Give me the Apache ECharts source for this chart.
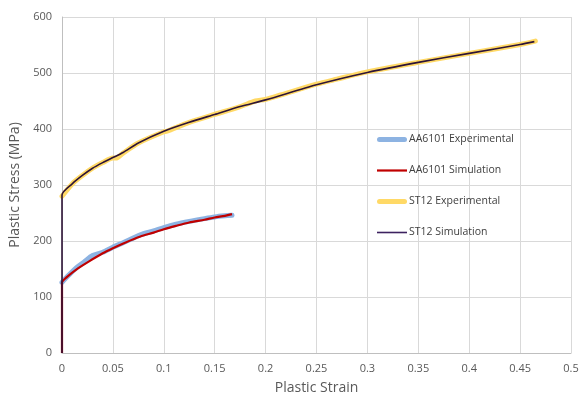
<!DOCTYPE html>
<html>
<head>
<meta charset="utf-8">
<script src="https://cdn.jsdelivr.net/npm/echarts@6/dist/echarts.min.js"></script>
<style>
  html, body { margin: 0; padding: 0; background: #fff; }
  #chart { width: 579px; height: 396px; }
</style>
</head>
<body>
<div id="chart"></div>
<script>
// strain / stress pairs
const aaExpStrain = [0, 0.005, 0.014, 0.022, 0.03, 0.04, 0.05, 0.06, 0.077, 0.09, 0.1, 0.112, 0.125, 0.14, 0.15, 0.16, 0.167]
const aaExpStress = [126, 136, 152, 163, 174, 180, 189, 197, 211, 218, 224, 230, 235, 240, 243, 245, 246]

const aaSimStrain = [0, 0, 0.005, 0.014, 0.027, 0.04, 0.05, 0.062, 0.077, 0.09, 0.1, 0.112, 0.125, 0.14, 0.15, 0.16, 0.167]
const aaSimStress = [0, 126, 136, 149, 164, 178, 187, 197, 208, 215, 221, 227, 233, 238, 242, 245, 248]

const stExpStrain = [0, 0.01, 0.02, 0.03, 0.04, 0.05, 0.053, 0.06, 0.075, 0.1, 0.103, 0.125, 0.15, 0.175, 0.19, 0.2, 0.25, 0.27, 0.3, 0.35, 0.4, 0.45, 0.465]
const stExpStress = [280, 302, 317, 330, 340, 348, 348, 357, 375, 395, 396, 412, 426, 440, 450, 453, 480, 489, 502, 519, 535, 551, 557]

const stSimStrain = [0, 0, 0.01, 0.02, 0.03, 0.04, 0.05, 0.06, 0.075, 0.1, 0.125, 0.15, 0.175, 0.2, 0.25, 0.3, 0.35, 0.4, 0.45, 0.464]
const stSimStress = [0, 282, 302, 317, 330, 340, 349, 358, 375, 396, 412, 426, 440, 452, 479, 501, 519, 535, 551, 556]

const pairs = (xs, ys) => xs.map((x, i) => [x, ys[i]])

const chart = echarts.init(document.getElementById('chart'))
const fontFamily = 'Open Sans'

const axisCommon = {
  axisTick: { show: false },
  axisLine: { show: true, lineStyle: { color: '#bfbfbf', width: 1 } },
  splitLine: { show: true, lineStyle: { color: '#d9d9d9', width: 1 } },
  axisLabel: { color: '#595959', fontSize: 11, fontFamily, margin: 10 },
  nameTextStyle: { color: '#595959', fontSize: 14, fontFamily }
}

const lineSeries = (name, data, color, width, cap) => ({
  name, type: 'line', data,
  symbol: 'none', smooth: 0.25,
  lineStyle: { color, width, cap: cap || 'butt', join: 'round' },
  itemStyle: { color },
  silent: true, z: 2
})

// legend glyphs: bar of given thickness, fit into a 30x10 box
const bar = h => `path://M0,${(10 - h) / 2}H30V${(10 + h) / 2}H0Z`
const pill = 'path://M2.5,2.5H27.5A2.5,2.5,0,0,1,27.5,7.5H2.5A2.5,2.5,0,0,1,2.5,2.5Z'

chart.setOption({
  animation: false,
  textStyle: { fontFamily },
  grid: { left: 62, right: 8, top: 17, bottom: 43, outerBoundsMode: 'none' },
  legend: {
    orient: 'vertical',
    left: 372, top: 129,
    itemWidth: 30, itemHeight: 10, itemGap: 20,
    symbolKeepAspect: true,
    textStyle: { color: '#404040', fontSize: 10.5, fontFamily, padding: [0, 0, 0, -3] },
    data: [
      { name: 'AA6101 Experimental', icon: pill, itemStyle: { color: '#8db3e2' } },
      { name: 'AA6101 Simulation', icon: bar(2.2), itemStyle: { color: '#c00000' } },
      { name: 'ST12 Experimental', icon: pill, itemStyle: { color: '#ffd966' } },
      { name: 'ST12 Simulation', icon: bar(1.6), itemStyle: { color: '#3d2260' } }
    ]
  },
  xAxis: {
    type: 'value', min: 0, max: 0.5, interval: 0.05,
    name: 'Plastic Strain', nameLocation: 'middle', nameGap: 28,
    ...axisCommon
  },
  yAxis: {
    type: 'value', min: 0, max: 600, interval: 100,
    name: 'Plastic Stress (MPa)', nameLocation: 'middle', nameGap: 30,
    ...axisCommon
  },
  series: [
    lineSeries('AA6101 Experimental', pairs(aaExpStrain, aaExpStress), '#8db3e2', 5, 'round'),
    lineSeries('AA6101 Simulation', pairs(aaSimStrain, aaSimStress), '#c00000', 2.2),
    lineSeries('ST12 Experimental', pairs(stExpStrain, stExpStress), '#ffd966', 5, 'round'),
    lineSeries('ST12 Simulation', pairs(stSimStrain, stSimStress), '#2e1437', 1.6)
  ]
})
</script>
</body>
</html>
